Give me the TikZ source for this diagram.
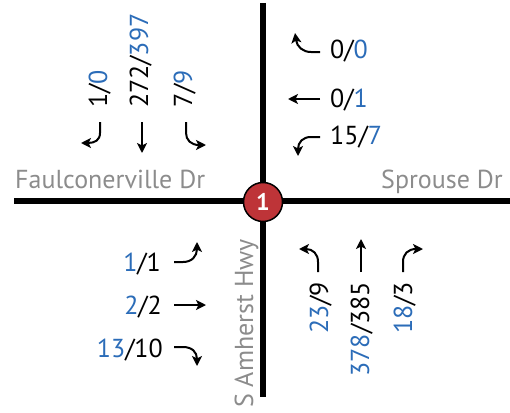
\documentclass[tikz,border=0pt]{standalone}
\usepackage{fontspec}
\setmainfont{PT Sans}
\usetikzlibrary{arrows.meta}
\definecolor{vblue}{HTML}{2B6CB8}
\definecolor{rgray}{HTML}{8C8C8C}
\definecolor{cred}{HTML}{BE3438}
\tikzset{
  road/.style={line width=6pt},
  mv/.style={line width=2pt,-{Stealth[length=10pt,width=10pt,inset=2.5pt]}},
  num/.style={inner sep=0pt,font=\fontsize{26}{28}\selectfont},
  rname/.style={inner sep=0pt,text=rgray,font=\fontsize{26}{28}\selectfont},
}
\newcommand{\bl}[1]{\textcolor{vblue}{#1}}
\begin{document}
\begin{tikzpicture}[x=1pt,y=-1pt]
\useasboundingbox (0,0) rectangle (510,412);
% roads
\coordinate (nt) at (263,3);
\coordinate (sb) at (263,397);
\coordinate (wb) at (14,201);
\coordinate (eb) at (510,201);
\draw[road] (nt) -- (sb);
\draw[road] (wb) -- (eb);
\node[circle,fill=cred,draw=black,line width=1.5pt,minimum size=39pt,inner sep=0pt,text=white,font=\fontsize{24}{26}\selectfont\bfseries] (c) at (263,202) {1};
% road names
\node[rname,anchor=base west] (fd) at (15,188) {Faulconerville Dr};
\node[rname,anchor=base east] (sd) at (503,188) {Sprouse Dr};
\node[rname,anchor=base west,rotate=90] (ah) at (253,408) {S Amherst Hwy};
% north approach
\node[num,anchor=base west,rotate=90] (n1) at (107,108) {1/\bl{0}};
\node[num,anchor=base west,rotate=90] (n2) at (148,108) {272/\bl{397}};
\node[num,anchor=base west,rotate=90] (n3) at (192,108) {7/\bl{9}};
\draw[mv] (100,122) -- (100,133) .. controls (100,140) and (95,143) .. (81,143);
\draw[mv] (142,122) -- (142,153);
\draw[mv] (186,122) -- (186,133) .. controls (186,140) and (191,145) .. (206,145);
% east approach
\node[num,anchor=base west] (e1) at (330,59) {0/\bl{0}};
\node[num,anchor=base west] (e2) at (330,107) {0/\bl{1}};
\node[num,anchor=base west] (e3) at (330,144) {15/\bl{7}};
\draw[mv] (320,52) -- (311,52) .. controls (303,52) and (297,47) .. (295,33);
\draw[mv] (320,99) -- (288,99);
\draw[mv] (320,137) -- (311,137) .. controls (303,137) and (298,142) .. (298,156);
% west approach
\node[num,anchor=base east] (w1) at (161,271) {\bl{1}/1};
\node[num,anchor=base east] (w2) at (162,314) {\bl{2}/2};
\node[num,anchor=base east] (w3) at (163,357) {\bl{13}/10};
\draw[mv] (174,262) -- (183,262) .. controls (192,262) and (197,256) .. (197,242);
\draw[mv] (174,305) -- (206,305);
\draw[mv] (174,347) -- (183,347) .. controls (192,347) and (197,352) .. (197,366);
% south approach
\node[num,anchor=base east,rotate=90] (s1) at (328,282) {\bl{23}/9};
\node[num,anchor=base east,rotate=90] (s2) at (369,282) {\bl{378}/385};
\node[num,anchor=base east,rotate=90] (s3) at (412,282) {\bl{18}/3};
\draw[mv] (318,272) -- (318,262) .. controls (318,254) and (313,249) .. (299,249);
\draw[mv] (361,272) -- (361,239);
\draw[mv] (403,272) -- (403,262) .. controls (403,254) and (408,249) .. (423,249);
\end{tikzpicture}
\end{document}
